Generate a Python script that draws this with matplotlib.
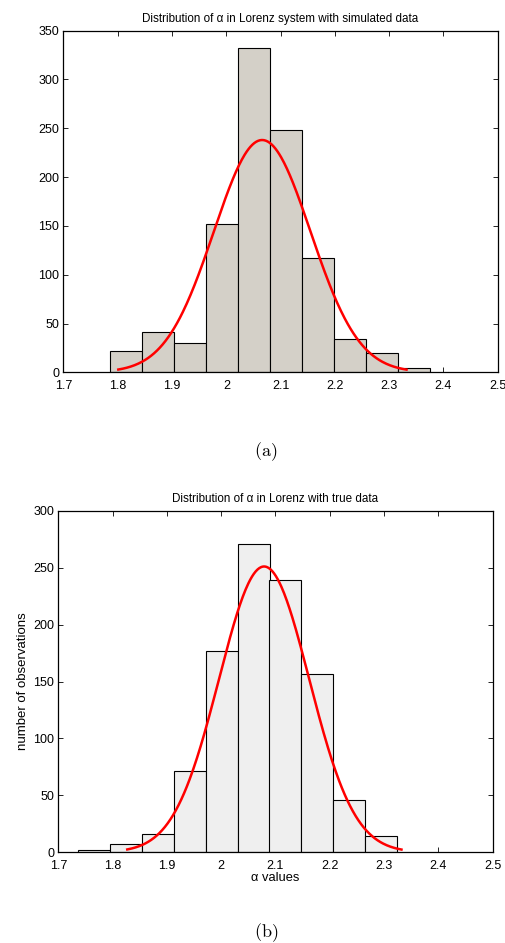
import numpy as np
import matplotlib
matplotlib.use("Agg")
import matplotlib.pyplot as plt

plt.rcParams['font.family'] = ['Liberation Sans', 'DejaVu Sans']
plt.rcParams['mathtext.fontset'] = 'cm'

# ---- data: panel (a) simulated ----
sim_centers = [1.815, 1.874, 1.933, 1.992, 2.051, 2.110, 2.169, 2.228, 2.287, 2.346]
sim_counts = [22, 41, 30, 152, 332, 248, 117, 34, 20, 4]
sim_width = 0.059
sim_fit_mu, sim_fit_sigma, sim_fit_peak = 2.066, 0.089, 238
sim_fit_range = (1.801, 2.332)

# ---- data: panel (b) true ----
true_centers = [1.765, 1.824, 1.883, 1.942, 2.001, 2.060, 2.118, 2.177, 2.236, 2.295]
true_counts = [2, 7, 16, 71, 177, 271, 239, 157, 46, 14]
true_width = 0.0589
true_fit_mu, true_fit_sigma, true_fit_peak = 2.079, 0.083, 251
true_fit_range = (1.827, 2.332)

xticks = [1.7, 1.8, 1.9, 2.0, 2.1, 2.2, 2.3, 2.4, 2.5]
xticklabels = ['1.7', '1.8', '1.9', '2', '2.1', '2.2', '2.3', '2.4', '2.5']
yticks_a = [0, 50, 100, 150, 200, 250, 300, 350]
yticks_b = [0, 50, 100, 150, 200, 250, 300]

W, H = 506, 943
fig = plt.figure(figsize=(W / 100, H / 100), dpi=100)

def setup(ax, yticks, ymax):
    ax.set_xlim(1.7, 2.5)
    ax.set_ylim(0, ymax)
    ax.set_xticks(xticks)
    ax.set_xticklabels(xticklabels)
    ax.set_yticks(yticks)
    ax.tick_params(direction='in', top=True, right=True, length=3.5, width=0.6,
                   labelsize=9, colors='black')
    ax.tick_params(axis='x', pad=5.5)
    ax.tick_params(axis='y', pad=3)
    for s in ax.spines.values():
        s.set_linewidth(0.9)

def fit_curve(ax, mu, sigma, peak, rng):
    xs = np.linspace(rng[0], rng[1], 300)
    ys = peak * np.exp(-(xs - mu) ** 2 / (2 * sigma ** 2))
    ax.plot(xs, ys, color='#ff0000', lw=1.8, zorder=3)

# panel (a)
ax1 = fig.add_axes([63.5 / W, 1 - 372.3 / H, 434.2 / W, 341.6 / H])
ax1.bar(sim_centers, sim_counts, width=sim_width, color='#d4d0c8',
        edgecolor='black', linewidth=0.8, zorder=2)
fit_curve(ax1, sim_fit_mu, sim_fit_sigma, sim_fit_peak, sim_fit_range)
setup(ax1, yticks_a, 350)
ax1.set_title('Distribution of α in Lorenz system with simulated data',
              fontsize=8.4, pad=6)

# panel (b)
ax2 = fig.add_axes([58.3 / W, 1 - 852.3 / H, 434.4 / W, 341.6 / H])
ax2.bar(true_centers, true_counts, width=true_width, color='#efefef',
        edgecolor='black', linewidth=0.8, zorder=2)
fit_curve(ax2, true_fit_mu, true_fit_sigma, true_fit_peak, true_fit_range)
setup(ax2, yticks_b, 300)
ax2.set_title('Distribution of α in Lorenz with true data', fontsize=8.4, pad=6)
ax2.set_xlabel('α values', fontsize=9.3, labelpad=0)
ax2.set_ylabel('number of observations', fontsize=9.5, labelpad=3)

fig.text(266 / W, 1 - 452 / H, r'$\mathrm{(a)}$', fontsize=13, ha='center', va='center')
fig.text(266 / W, 1 - 933 / H, r'$\mathrm{(b)}$', fontsize=13, ha='center', va='center')

fig.savefig('out.png', dpi=100)
